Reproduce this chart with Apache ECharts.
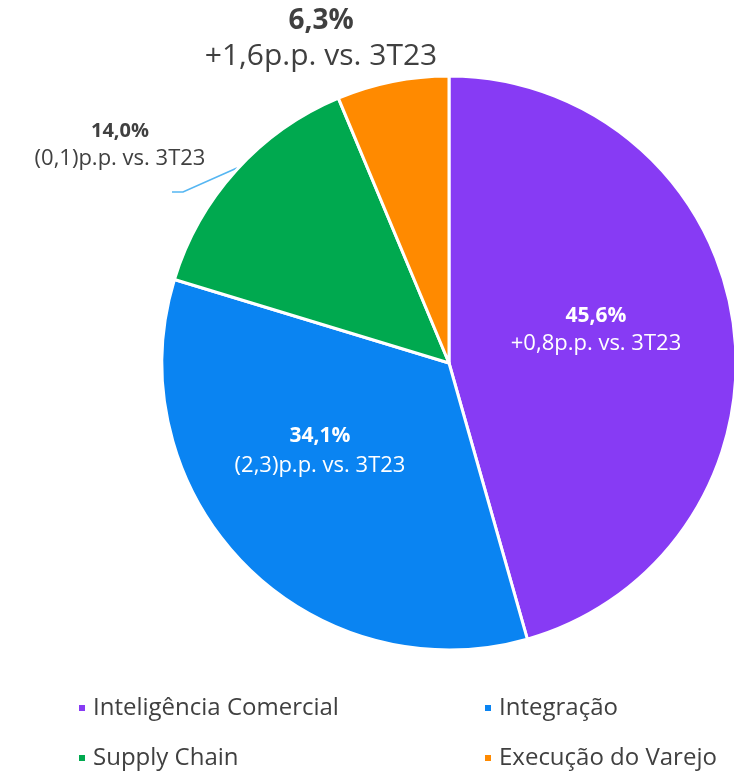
<!DOCTYPE html>
<html>
<head>
<meta charset="utf-8">
<script src="https://cdn.jsdelivr.net/npm/echarts@6/dist/echarts.min.js"></script>
<style>html,body{margin:0;padding:0;background:#fff;}#c{width:734px;height:772px;}</style>
</head>
<body>
<div id="c"></div>
<script>
const categories = ['Inteligência Comercial', 'Integração', 'Supply Chain', 'Execução do Varejo'];
const shares = [45.6, 34.1, 14.0, 6.3];
const deltas = [0.8, -2.3, -0.1, 1.6];
const colors = ['#873BF4', '#0A84F2', '#00A94F', '#FF8A00'];

const FONT = 'Open Sans';

function fmt(v) { return v.toFixed(1).replace('.', ','); }
function fmtDelta(d) {
  return d >= 0 ? '+' + fmt(d) : '(' + fmt(Math.abs(d)) + ')';
}

const labelStyles = [
  { pos: 'inside', color: '#ffffff', b: 21, n: 22, lh: 28 },
  { pos: 'inside', color: '#ffffff', b: 21, n: 22, lh: 29 },
  { pos: 'outside', color: '#404040', b: 20, n: 22, lh: 28, line: true },
  { pos: 'outside', color: '#404040', b: 28, n: 30, lh: 35, line: false }
];
const labelPos = [[596, 330], [320, 451], [120, 145], [321, 39]];

const data = categories.map((name, i) => {
  const s = labelStyles[i];
  return {
    name: name,
    value: shares[i],
    itemStyle: { color: colors[i] },
    label: {
      position: s.pos,
      formatter: '{b|' + fmt(shares[i]) + '%}\n{n|' + fmtDelta(deltas[i]) + 'p.p. vs. 3T23}',
      rich: {
        b: { fontSize: s.b, fontWeight: 'bold', color: s.color, lineHeight: s.lh, fontFamily: FONT },
        n: { fontSize: s.n, color: s.color, lineHeight: s.lh, fontFamily: FONT }
      }
    },
    labelLine: { show: !!s.line, lineStyle: { color: '#55B6F2', width: 1.6 } }
  };
});

const legendCommon = {
  orient: 'vertical', top: 690, height: 120,
  icon: 'rect', itemWidth: 8, itemHeight: 8, itemGap: 24,
  textStyle: { fontSize: 24, lineHeight: 26, color: '#404040', fontFamily: FONT, padding: [0, 0, 0, 2] }
};

const chart = echarts.init(document.getElementById('c'));
chart.setOption({
  animation: false,
  textStyle: { fontFamily: FONT },
  legend: [
    Object.assign({ data: [categories[0], categories[2]], left: 72 }, legendCommon),
    Object.assign({ data: [categories[1], categories[3]], left: 478 }, legendCommon)
  ],
  series: [{
    type: 'pie',
    center: [449, 363],
    radius: 287,
    startAngle: 90,
    clockwise: true,
    itemStyle: { borderColor: '#ffffff', borderWidth: 3 },
    label: { show: true },
    labelLayout: function (p) {
      const i = p.dataIndex;
      const out = { x: labelPos[i][0], y: labelPos[i][1], align: 'center', verticalAlign: 'middle' };
      if (i === 2) out.labelLinePoints = [[237, 168], [183, 192], [172, 192]];
      return out;
    },
    data: data
  }]
});
</script>
</body>
</html>
